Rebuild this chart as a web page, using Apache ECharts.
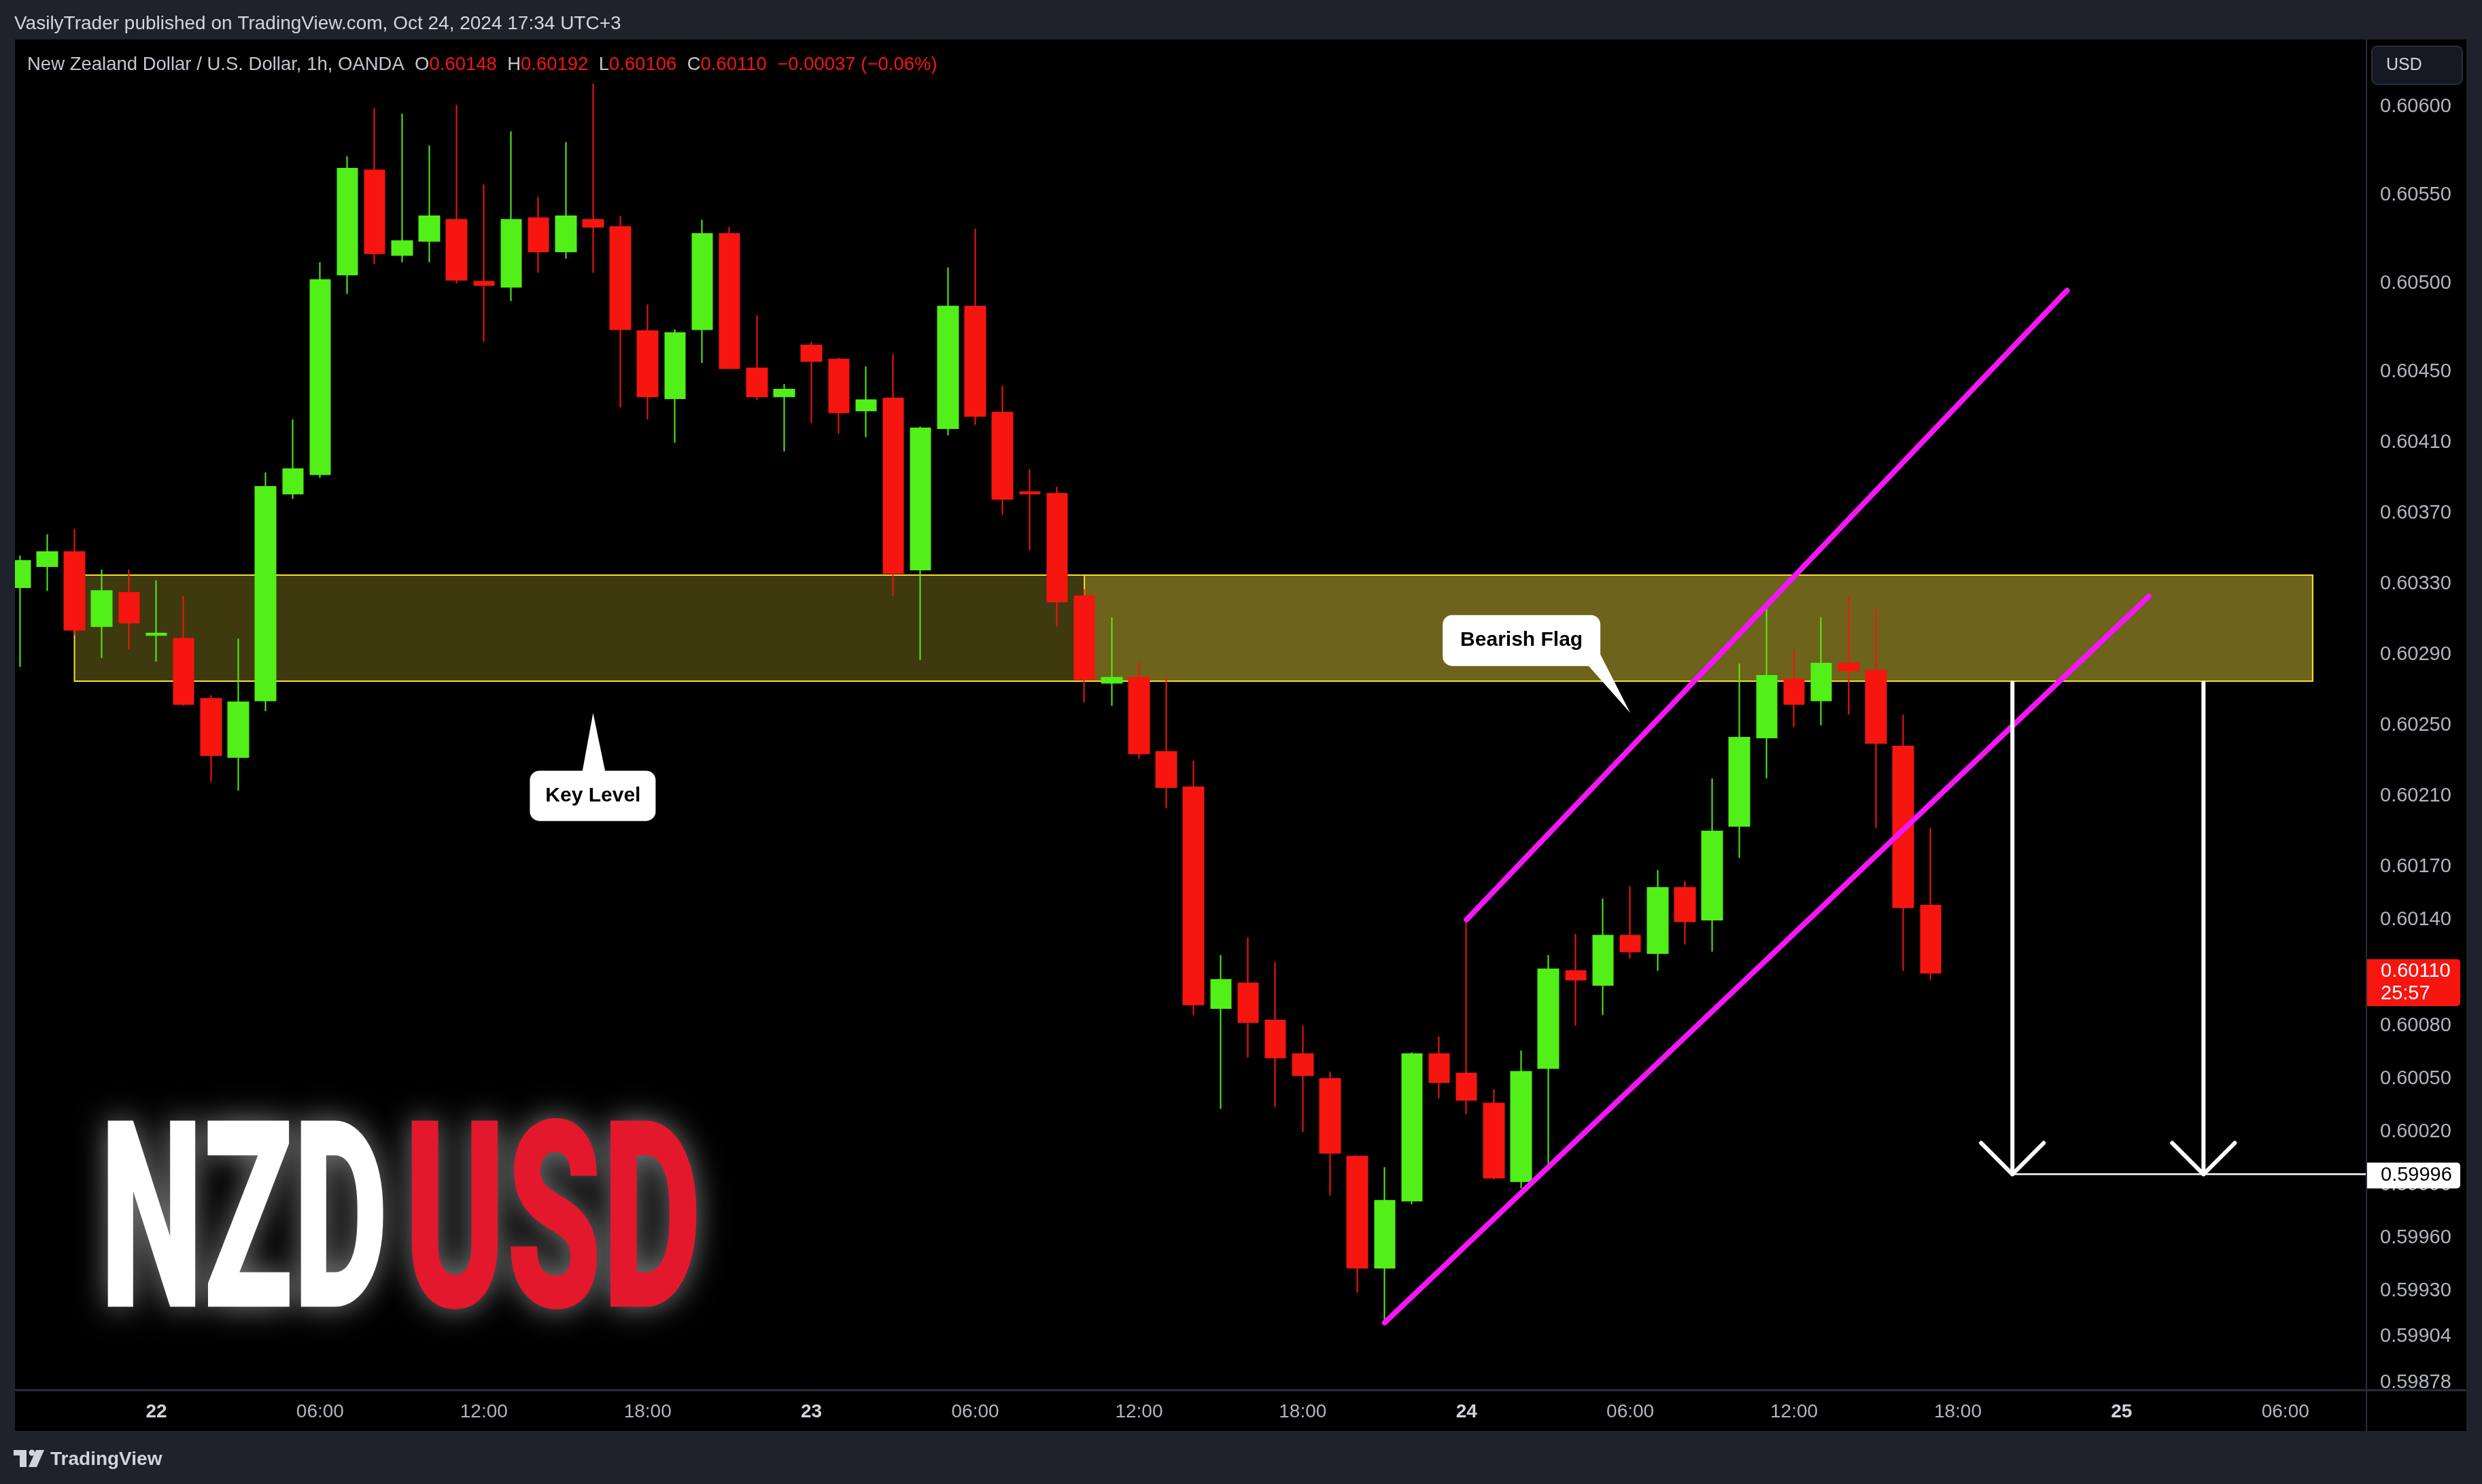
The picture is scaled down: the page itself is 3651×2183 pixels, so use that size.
<!DOCTYPE html>
<html><head><meta charset="utf-8">
<script src="https://cdn.jsdelivr.net/npm/echarts@6/dist/echarts.min.js"></script>
<style>html,body{margin:0;padding:0;background:#1e222d;}#c{width:3651px;height:2183px;}</style>
</head><body><div id="c"></div>
<script>
// hours relative to 2024-10-22 00:00 (UTC+3); one bar per hour
const firstBarHour = -5;
const opens = [0.60328,0.60340,0.60348,0.60306,0.60325,0.60301,0.60299,0.60265,0.60232,0.60264,0.60381,0.60392,0.60505,0.60564,0.60516,0.60524,0.60536,0.60501,0.60498,0.60537,0.60518,0.60536,0.60532,0.60473,0.60435,0.60474,0.60528,0.60452,0.60436,0.60465,0.60457,0.60428,0.60435,0.60338,0.60418,0.60487,0.60427,0.60382,0.60381,0.60323,0.60274,0.60277,0.60235,0.60215,0.60090,0.60104,0.60083,0.60064,0.60050,0.60006,0.59943,0.59981,0.60064,0.60053,0.60036,0.59992,0.60056,0.60111,0.60103,0.60131,0.60121,0.60158,0.60140,0.60193,0.60243,0.60276,0.60264,0.60285,0.60281,0.60238,0.60148];
const closes = [0.60343,0.60348,0.60304,0.60326,0.60308,0.60302,0.60262,0.60233,0.60263,0.60385,0.60395,0.60502,0.60565,0.60517,0.60524,0.60538,0.60502,0.60499,0.60536,0.60518,0.60538,0.60532,0.60474,0.60436,0.60472,0.60528,0.60452,0.60436,0.60440,0.60456,0.60427,0.60434,0.60336,0.60418,0.60487,0.60425,0.60378,0.60381,0.60320,0.60276,0.60277,0.60234,0.60215,0.60092,0.60106,0.60082,0.60062,0.60052,0.60008,0.59943,0.59981,0.60064,0.60048,0.60038,0.59994,0.60054,0.60112,0.60106,0.60131,0.60122,0.60158,0.60139,0.60190,0.60243,0.60278,0.60262,0.60285,0.60281,0.60240,0.60147,0.60110];
const lows = [0.60283,0.60326,0.60301,0.60288,0.60293,0.60286,0.60261,0.60218,0.60213,0.60258,0.60378,0.60390,0.60494,0.60511,0.60512,0.60512,0.60500,0.60467,0.60490,0.60506,0.60514,0.60506,0.60430,0.60423,0.60410,0.60455,0.60452,0.60434,0.60405,0.60421,0.60415,0.60413,0.60323,0.60287,0.60414,0.60420,0.60369,0.60349,0.60306,0.60263,0.60261,0.60231,0.60203,0.60086,0.60033,0.60062,0.60034,0.60020,0.59984,0.59929,0.59912,0.59979,0.60039,0.60030,0.59993,0.59988,0.60001,0.60080,0.60086,0.60118,0.60111,0.60126,0.60122,0.60175,0.60220,0.60249,0.60250,0.60256,0.60192,0.60111,0.60106];
const highs = [0.60346,0.60358,0.60361,0.60338,0.60338,0.60332,0.60323,0.60267,0.60299,0.60393,0.60423,0.60512,0.60572,0.60599,0.60596,0.60578,0.60601,0.60556,0.60586,0.60549,0.60580,0.60613,0.60538,0.60488,0.60474,0.60536,0.60532,0.60482,0.60443,0.60467,0.60458,0.60453,0.60460,0.60419,0.60509,0.60531,0.60442,0.60395,0.60385,0.60327,0.60311,0.60286,0.60278,0.60230,0.60120,0.60130,0.60116,0.60080,0.60054,0.60006,0.60000,0.60065,0.60074,0.60140,0.60044,0.60066,0.60120,0.60132,0.60152,0.60159,0.60168,0.60162,0.60220,0.60285,0.60319,0.60293,0.60311,0.60323,0.60316,0.60256,0.60192];

const timeTicks = [0,6,12,18,24,30,36,42,48,54,60,66,72,78];
const timeTickLabels = ['22','06:00','12:00','18:00','23','06:00','12:00','18:00','24','06:00','12:00','18:00','25','06:00'];
const dayTicks = [0,24,48,72];
const priceTicks = [0.60600,0.60550,0.60500,0.60450,0.60410,0.60370,0.60330,0.60290,0.60250,0.60210,0.60170,0.60140,0.60110,0.60080,0.60050,0.60020,0.59990,0.59960,0.59930,0.59904,0.59878];

// drawings (hour, price)
const zoneBoxes = [[-3,0.60335,79,0.60275],[34,0.60335,79,0.60275]];
const channelUpper = [[48,0.60140],[70,0.60496]];
const channelLower = [[45,0.59912],[73,0.60323]];
const targetArrows = [[68,0.60274,0.59996],[75,0.60274,0.59996]];
const targetPrice = 0.59996;
const calloutTexts = ['Key Level','Bearish Flag'];
const calloutAnchors = [[16,0.60257],[54,0.60257]];
const countdown = '25:57';

const xMin = -5.1806, xMax = 80.97;
const yMin = 0.5987419, yMax = 0.6063804;

const UP = '#52ef18', DOWN = '#f6150f', MAG = '#f516f8';
const FONT = '"Liberation Sans", Arial, sans-serif';

const candleData = opens.map((o,i)=>[firstBarHour+i, o, closes[i], lows[i], highs[i]]);
const last = closes.length-1;
const fmt = v => v.toFixed(5);
const chg = closes[last]-closes[last-1];
const sgn = chg<0?'−':'+';
const chgTxt = sgn+Math.abs(chg).toFixed(5)+' ('+sgn+Math.abs(chg/closes[last-1]*100).toFixed(2)+'%)';

const priceTags = [
  {price: closes[last], sub: countdown, bg: closes[last]<opens[last]?DOWN:UP, fg:'#ffffff'},
  {price: targetPrice, bg:'#ffffff', fg:'#000000'}
];

function measure(text, font){const c=document.createElement('canvas').getContext('2d');c.font=font;return c.measureText(text).width;}
const bigFont = '900 385px Roboto';
const sNZD = 424/measure('NZD', bigFont);
const sUSD = 438/measure('USD', bigFont);

const chart = echarts.init(document.getElementById('c'), null, {renderer:'canvas', width:3651, height:2183});

const calloutLayout = [
  {box:[-93,85,185,74], ptr:[[-16,87],[18,87]], txt:[0,122]},
  {box:[-276,-144,232,75], ptr:[[-63,-71],[-45,-88]], txt:[-160,-107]}
];

const option = {
  animation:false,
  backgroundColor:'#000000',
  grid:{left:22, top:58, width:3459, height:1986, containLabel:false, outerBoundsMode:'none'},
  xAxis:{type:'value', min:xMin, max:xMax, z:3,
    axisLine:{show:false}, axisTick:{show:false}, splitLine:{show:false},
    axisLabel:{customValues:timeTicks, margin:19, fontSize:28, fontFamily:FONT, color:'#b2b5be',
      formatter:(v)=>{const i=timeTicks.indexOf(Math.round(v)); const t=timeTickLabels[i]; return dayTicks.indexOf(Math.round(v))>=0?'{d|'+t+'}':'{t|'+t+'}';},
      rich:{d:{fontSize:28, fontWeight:'bold', color:'#d1d4dc', fontFamily:FONT}, t:{fontSize:28, color:'#b2b5be', fontFamily:FONT}}}},
  yAxis:{type:'value', position:'right', min:yMin, max:yMax, scale:true,
    axisLine:{show:false}, axisTick:{show:false}, splitLine:{show:false},
    axisLabel:{customValues:priceTicks, formatter:(v)=>v.toFixed(5), align:'left', margin:20, fontSize:29, fontFamily:FONT, color:'#b2b5be'}},
  series:[
    {type:'custom', name:'zones', z:1, silent:true, clip:true, data:zoneBoxes, encode:{x:[0,2], y:[1,3]},
      renderItem:(params, api)=>{
        const a=api.coord([api.value(0),api.value(1)]), b=api.coord([api.value(2),api.value(3)]);
        return {type:'rect', shape:{x:a[0], y:a[1], width:b[0]-a[0], height:b[1]-a[1]},
          style:{fill:'rgba(242,222,58,0.26)', stroke:'#f4de2e', lineWidth:2}};
      }},
    {type:'candlestick', name:'NZDUSD', z:2, silent:true, clip:true, data:candleData, barWidth:30,
      encode:{x:0, y:[1,2,3,4]},
      itemStyle:{color:UP, color0:DOWN, borderColor:UP, borderColor0:DOWN, borderWidth:2}},
    {type:'line', z:3, silent:true, symbol:'none', data:channelUpper, lineStyle:{color:MAG, width:8, cap:'round'}},
    {type:'line', z:3, silent:true, symbol:'none', data:channelLower, lineStyle:{color:MAG, width:8, cap:'round'}},
    {type:'line', z:3, silent:true, symbol:'none', data:[[targetArrows[0][0],targetPrice],[xMax,targetPrice]], lineStyle:{color:'#ffffff', width:2.5}},
    {type:'custom', z:4, silent:true, data:targetArrows, encode:{x:0, y:[1,2]},
      renderItem:(params, api)=>{
        const top=api.coord([api.value(0),api.value(1)]), tip=api.coord([api.value(0),api.value(2)]);
        return {type:'group', children:[
          {type:'line', shape:{x1:top[0],y1:top[1],x2:tip[0],y2:tip[1]}, style:{stroke:'#ffffff', lineWidth:6, lineCap:'round'}},
          {type:'polyline', shape:{points:[[tip[0]-46,tip[1]-46],[tip[0],tip[1]],[tip[0]+46,tip[1]-46]]}, style:{stroke:'#ffffff', fill:null, lineWidth:6, lineCap:'round', lineJoin:'round'}}
        ]};
      }},
    {type:'custom', z:5, silent:true, data:calloutAnchors, encode:{x:0, y:1},
      renderItem:(params, api)=>{
        const L=calloutLayout[params.dataIndex];
        const t=api.coord([api.value(0),api.value(1)]);
        return {type:'group', children:[
          {type:'rect', shape:{x:t[0]+L.box[0], y:t[1]+L.box[1], width:L.box[2], height:L.box[3], r:14}, style:{fill:'#ffffff'}},
          {type:'polygon', shape:{points:[[t[0]+L.ptr[0][0],t[1]+L.ptr[0][1]],[t[0]+L.ptr[1][0],t[1]+L.ptr[1][1]],[t[0],t[1]]]}, style:{fill:'#ffffff'}},
          {type:'text', style:{x:t[0]+L.txt[0], y:t[1]+L.txt[1], text:calloutTexts[params.dataIndex], fill:'#000000',
            font:'bold 30px '+FONT, align:'center', verticalAlign:'middle', textAlign:'center', textVerticalAlign:'middle'}}
        ]};
      }},
    {type:'custom', z:6, silent:true, clip:false, data:priceTags.map(p=>[xMax,p.price]), encode:{x:0, y:1},
      renderItem:(params, api)=>{
        const tag=priceTags[params.dataIndex];
        const pt=api.coord([xMax,tag.price]);
        const x=pt[0]+1, y=pt[1];
        const ts={fill:tag.fg, font:'29px '+FONT, align:'left', verticalAlign:'middle', textAlign:'left', textVerticalAlign:'middle'};
        if(tag.sub){
          return {type:'group', children:[
            {type:'rect', shape:{x:x, y:y-20, width:137, height:69, r:[0,5,5,0]}, style:{fill:tag.bg}},
            {type:'text', style:Object.assign({x:x+20, y:y-2, text:fmt(tag.price)}, ts)},
            {type:'text', style:Object.assign({x:x+20, y:y+31, text:tag.sub}, ts)}
          ]};
        }
        return {type:'group', children:[
          {type:'rect', shape:{x:x, y:y-17, width:137, height:38, r:[0,5,5,0]}, style:{fill:tag.bg}},
          {type:'text', style:Object.assign({x:x+20, y:y+2, text:fmt(tag.price)}, ts)}
        ]};
      }}
  ],
  graphic:[
    // time axis background cover
    {type:'rect', z:1, silent:true, shape:{x:22, y:2046, width:3606, height:59}, style:{fill:'#000000'}},
    // big watermark text
    {type:'text', z:1, silent:true, x:147, y:1826, scaleX:sNZD, style:{text:'NZD', font:bigFont, fill:'#ffffff', align:'left', verticalAlign:'middle', textAlign:'left', textVerticalAlign:'middle', textShadowColor:'rgba(255,255,255,0.5)', textShadowBlur:45}},
    {type:'text', z:1, silent:true, x:594, y:1826, scaleX:sUSD, style:{text:'USD', font:bigFont, fill:'#e3182d', align:'left', verticalAlign:'middle', textAlign:'left', textVerticalAlign:'middle', textShadowColor:'rgba(255,255,255,0.5)', textShadowBlur:45}},
    // separators
    {type:'line', z:9, silent:true, shape:{x1:22, y1:2045, x2:3628, y2:2045}, style:{stroke:'#2a2e39', lineWidth:3}},
    {type:'line', z:9, silent:true, shape:{x1:3481, y1:58, x2:3481, y2:2105}, style:{stroke:'#2a2e39', lineWidth:2}},
    // frame
    {type:'rect', z:10, silent:true, shape:{x:0, y:0, width:3651, height:58}, style:{fill:'#1f222c'}},
    {type:'rect', z:10, silent:true, shape:{x:0, y:0, width:22, height:2183}, style:{fill:'#1f222c'}},
    {type:'rect', z:10, silent:true, shape:{x:3628, y:0, width:23, height:2183}, style:{fill:'#1f222c'}},
    {type:'rect', z:10, silent:true, shape:{x:0, y:2105, width:3651, height:78}, style:{fill:'#1f222c'}},
    {type:'text', z:11, silent:true, x:21, y:35, style:{text:'VasilyTrader published on TradingView.com, Oct 24, 2024 17:34 UTC+3', font:'28px '+FONT, fill:'#d1d4dc', align:'left', verticalAlign:'middle', textAlign:'left', textVerticalAlign:'middle'}},
    {type:'text', z:11, silent:true, x:40, y:95, style:{
      text:'{g|New Zealand Dollar / U.S. Dollar, 1h, OANDA}  {g|O}{r|'+fmt(opens[last])+'}  {g|H}{r|'+fmt(highs[last])+'}  {g|L}{r|'+fmt(lows[last])+'}  {g|C}{r|'+fmt(closes[last])+'}  {r|'+chgTxt+'}',
      font:'27.5px '+FONT, fill:'#c3c6ce', align:'left', verticalAlign:'middle', textAlign:'left', textVerticalAlign:'middle',
      rich:{g:{fill:'#c3c6ce', color:'#c3c6ce', fontSize:27.5, fontFamily:FONT}, r:{fill:DOWN, color:DOWN, fontSize:27.5, fontFamily:FONT}}}},
    // USD button
    {type:'rect', z:11, silent:true, shape:{x:3489, y:68, width:133, height:56, r:8}, style:{fill:'#151924', stroke:'#2a2e39', lineWidth:2}},
    {type:'text', z:12, silent:true, x:3510, y:96, style:{text:'USD', font:'25px '+FONT, fill:'#d1d4dc', align:'left', verticalAlign:'middle', textAlign:'left', textVerticalAlign:'middle'}},
    // footer logo + name
    {type:'rect', z:11, silent:true, shape:{x:20, y:2133, width:19, height:8}, style:{fill:'#d1d4dc'}},
    {type:'rect', z:11, silent:true, shape:{x:29, y:2133, width:10, height:25}, style:{fill:'#d1d4dc'}},
    {type:'circle', z:11, silent:true, shape:{cx:47, cy:2137, r:4.5}, style:{fill:'#d1d4dc'}},
    {type:'polygon', z:11, silent:true, shape:{points:[[53,2133],[65,2133],[54,2158],[42,2158]]}, style:{fill:'#d1d4dc'}},
    {type:'text', z:11, silent:true, x:74, y:2147, style:{text:'TradingView', font:'bold 28px '+FONT, fill:'#d1d4dc', align:'left', verticalAlign:'middle', textAlign:'left', textVerticalAlign:'middle'}}
  ]
};
chart.setOption(option);
</script></body></html>
